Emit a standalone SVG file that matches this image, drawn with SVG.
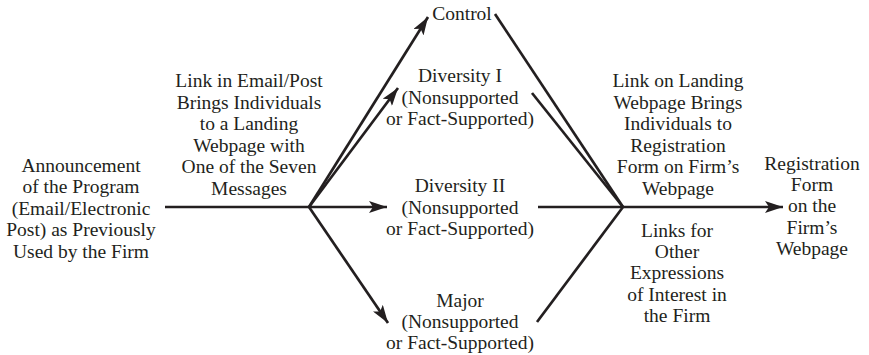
<svg xmlns="http://www.w3.org/2000/svg" width="869" height="355" viewBox="0 0 869 355">
<style>
text{font-family:"Liberation Serif","Times New Roman",serif;font-size:19.5px;fill:#231f20;text-anchor:middle}
.ln{stroke:#231f20;stroke-width:2.7;fill:none;stroke-linecap:butt}
</style>
<defs>
<marker id="ah" viewBox="0 0 18 12" refX="18" refY="6" markerWidth="18" markerHeight="12" markerUnits="userSpaceOnUse" orient="auto">
<path d="M0,0 L18,6 L0,12 L4,6 z" fill="#231f20"/>
</marker>
</defs>
<rect width="869" height="355" fill="#fff"/>
<g id="connectors">
<line class="ln" x1="165" y1="207" x2="309" y2="207"/>
<line class="ln" x1="309" y1="207" x2="428" y2="17" marker-end="url(#ah)"/>
<line class="ln" x1="309" y1="207" x2="398" y2="88" marker-end="url(#ah)"/>
<line class="ln" x1="309" y1="207" x2="387" y2="207" marker-end="url(#ah)"/>
<line class="ln" x1="309" y1="207" x2="388" y2="323" marker-end="url(#ah)"/>
<line class="ln" x1="495" y1="14" x2="623" y2="207"/>
<line class="ln" x1="532" y1="93" x2="623" y2="207"/>
<line class="ln" x1="538" y1="207" x2="623" y2="207"/>
<line class="ln" x1="537" y1="322" x2="623" y2="207"/>
<line class="ln" x1="623" y1="207" x2="783" y2="207" marker-end="url(#ah)"/>
</g>
<g id="announcement">
<text x="81" y="171.5">Announcement</text>
<text x="81" y="193">of the Program</text>
<text x="81" y="214.7">(Email/Electronic</text>
<text x="81" y="236.3">Post) as Previously</text>
<text x="81" y="258">Used by the Firm</text>
</g>
<g id="link-email">
<text x="249" y="87">Link in Email/Post</text>
<text x="249" y="108.6">Brings Individuals</text>
<text x="249" y="130.2">to a Landing</text>
<text x="249" y="151.8">Webpage with</text>
<text x="249" y="173.4">One of the Seven</text>
<text x="249" y="195">Messages</text>
</g>
<g id="control">
<text x="462" y="20">Control</text>
</g>
<g id="diversity1">
<text x="460" y="82">Diversity I</text>
<text x="460" y="103.5">(Nonsupported</text>
<text x="460" y="125">or Fact-Supported)</text>
</g>
<g id="diversity2">
<text x="460" y="192">Diversity II</text>
<text x="460" y="213.5">(Nonsupported</text>
<text x="460" y="235">or Fact-Supported)</text>
</g>
<g id="major">
<text x="460" y="307">Major</text>
<text x="460" y="328">(Nonsupported</text>
<text x="460" y="349">or Fact-Supported)</text>
</g>
<g id="link-landing">
<text x="678" y="87">Link on Landing</text>
<text x="678" y="108.6">Webpage Brings</text>
<text x="678" y="130.2">Individuals to</text>
<text x="678" y="151.8">Registration</text>
<text x="678" y="173.4">Form on Firm’s</text>
<text x="678" y="195">Webpage</text>
</g>
<g id="other-links">
<text x="677" y="237">Links for</text>
<text x="677" y="258.2">Other</text>
<text x="677" y="279.4">Expressions</text>
<text x="677" y="300.6">of Interest in</text>
<text x="677" y="321.8">the Firm</text>
</g>
<g id="registration">
<text x="812" y="170">Registration</text>
<text x="812" y="191.2">Form</text>
<text x="812" y="212.4">on the</text>
<text x="812" y="233.6">Firm’s</text>
<text x="812" y="254.8">Webpage</text>
</g>
</svg>
